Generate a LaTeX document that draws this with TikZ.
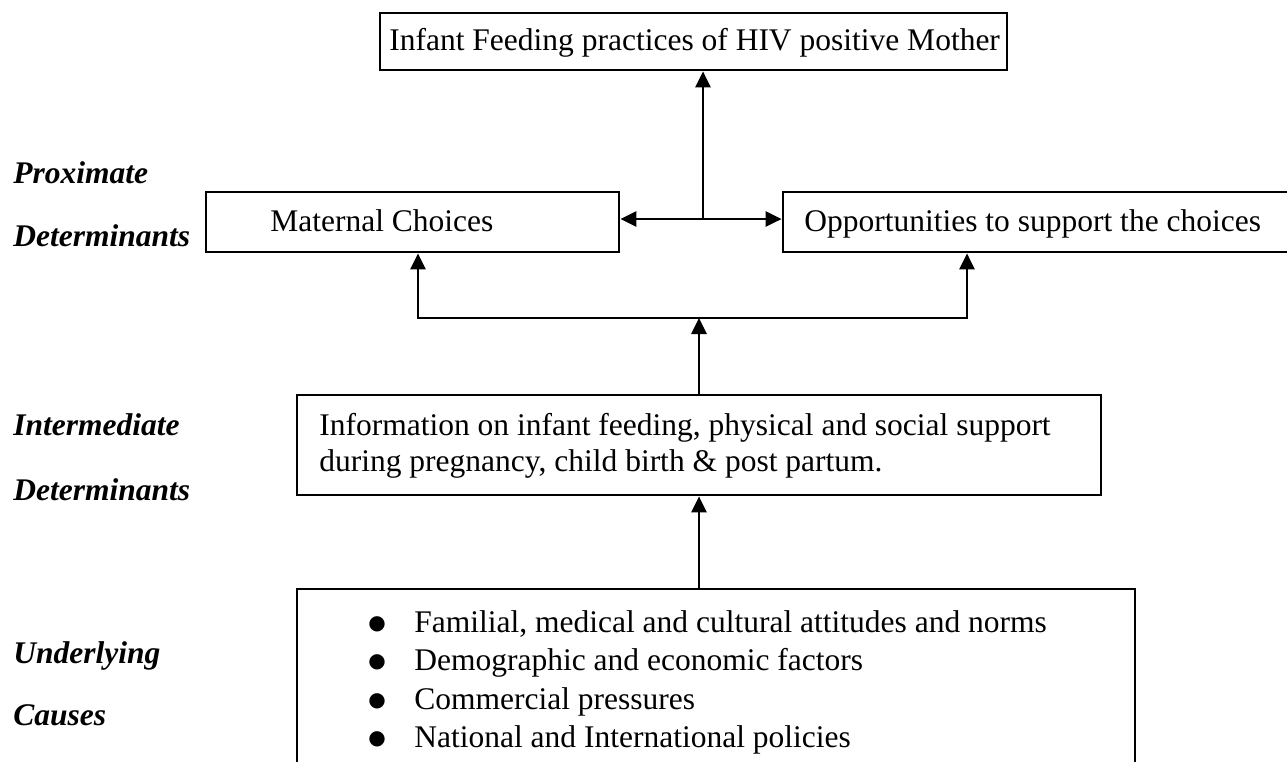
\documentclass[tikz,border=0pt]{standalone}
\usepackage{fontspec}
\setmainfont{Liberation Serif}
\newfontfamily\dotfont{DejaVu Sans}
\usetikzlibrary{arrows.meta}

\begin{document}
\begin{tikzpicture}[x=1pt,y=-1pt,
		box/.style={draw, line width=2.7pt, inner sep=0pt},
		txt/.style={anchor=base west, inner sep=0pt, font=\fontsize{31.5}{36}\selectfont},
		lbl/.style={anchor=base west, inner sep=0pt, font=\fontsize{31.5}{36}\selectfont\bfseries\itshape},
		>={Triangle[length=16pt,width=15pt]}, line width=2.7pt]
			\useasboundingbox (0,0) rectangle (1287,761);
			\clip (0,0) rectangle (1287,761);
			% boxes
			\node[box, minimum width=627pt, minimum height=57pt] (practices) at (693.5,41.5) {};
			\node[box, minimum width=413pt, minimum height=60pt] (maternal) at (412.5,222) {};
			\node[box, minimum width=509pt, minimum height=60pt] (opp) at (1037.5,222) {};
			\node[box, minimum width=804pt, minimum height=100pt] (info) at (699,445) {};
			\node[box, minimum width=838pt, minimum height=200pt] (causes) at (716,689) {};
			% texts
			\node[txt] (practicesText) at (388,50) {Infant Feeding practices of HIV positive Mother};
			\node[txt] (maternalText) at (269,231) {Maternal Choices};
			\node[txt] (oppText) at (803,231) {Opportunities to support the choices};
			\node[txt] (infoA) at (318,435) {Information on infant feeding, physical and social support};
			\node[txt] (infoB) at (318,471) {during pregnancy, child birth \& post partum.};
			\foreach \t [count=\i] in {{Familial, medical and cultural attitudes and norms},
				{Demographic and economic factors}, {Commercial pressures},
				{National and International policies}}
				\node[txt] (item\i) at (363,{632+38.5*(\i-1)})
					{\makebox[50pt][l]{\hspace{4pt}\raisebox{3pt}{\dotfont\fontsize{20}{20}\selectfont ●}}\t};
			% levels
			\node[lbl] (proxA) at (12,183) {Proximate};
			\node[lbl] (proxB) at (12,246) {Determinants};
			\node[lbl] (interA) at (12,435) {Intermediate};
			\node[lbl] (interB) at (12,500) {Determinants};
			\node[lbl] (underA) at (12,663) {Underlying};
			\node[lbl] (underB) at (12,725) {Causes};
			% arrows
			\coordinate (hub) at (703,219);
			\coordinate (fork) at (699,318);
			\draw[<->] (maternal.east |- hub) -- (opp.west |- hub);
			\draw[->] (hub) -- (hub |- practices.south);
			\draw[->] (fork) -| ([xshift=5.5pt]maternal.south);
			\draw[->] (fork) -| ([xshift=-70.5pt]opp.south);
			\draw[->] (info.north -| fork) -- (fork);
			\draw[->] (causes.north -| fork) -- (info.south -| fork);
		\end{tikzpicture}
\end{document}
